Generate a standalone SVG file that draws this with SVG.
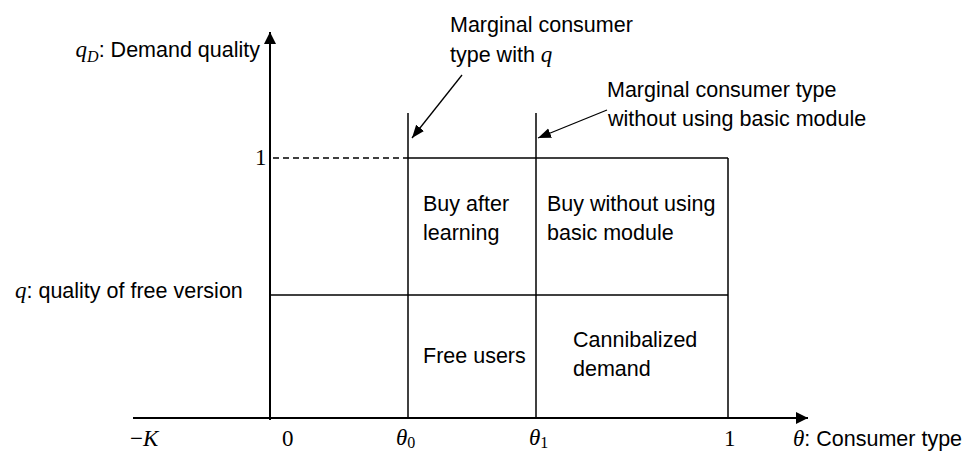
<svg xmlns="http://www.w3.org/2000/svg" width="979" height="452" viewBox="0 0 979 452">
<style>
text{font-family:"Liberation Sans",Arial,sans-serif;font-size:21.5px;fill:#000}
.m{font-family:"Liberation Serif","Times New Roman",serif;font-style:italic;font-size:23px}
.n{font-family:"Liberation Serif","Times New Roman",serif;font-size:23px}
.sub{font-family:"Liberation Serif","Times New Roman",serif;font-size:16px}
.axis{stroke:#000;stroke-width:2;fill:none}
.grid{stroke:#000;stroke-width:1.5;fill:none}
.dash{stroke:#000;stroke-width:1.5;stroke-dasharray:6 4;fill:none}
.ptr{stroke:#000;stroke-width:1.3;fill:none}
</style>
<defs>
<marker id="ah" markerUnits="userSpaceOnUse" markerWidth="14" markerHeight="12" refX="12" refY="6" orient="auto">
<path d="M0,0 L12,6 L0,12 Z" fill="#000"/>
</marker>
<marker id="ap" markerUnits="userSpaceOnUse" markerWidth="14" markerHeight="12" refX="13" refY="5" orient="auto">
<path d="M0,0 L13,5 L0,10 Z" fill="#000"/>
</marker>
</defs>
<g id="connectors">
<line id="y-axis" class="axis" x1="270" y1="420" x2="270" y2="32" marker-end="url(#ah)"/>
<line id="x-axis" class="axis" x1="133" y1="418" x2="808" y2="418" marker-end="url(#ah)"/>
<line class="grid" x1="408" y1="113" x2="408" y2="418"/>
<line class="grid" x1="536" y1="113" x2="536" y2="418"/>
<line class="grid" x1="728" y1="158" x2="728" y2="418"/>
<line class="grid" x1="408" y1="158" x2="728" y2="158"/>
<line class="dash" x1="273" y1="158" x2="408" y2="158"/>
<line class="grid" x1="270" y1="295" x2="728" y2="295"/>
<line class="ptr" x1="462" y1="75" x2="412" y2="138" marker-end="url(#ap)"/>
<line class="ptr" x1="607" y1="110" x2="538" y2="138" marker-end="url(#ap)"/>
</g>
<g id="y-label"><text x="260" y="57" text-anchor="end"><tspan class="m">q</tspan><tspan class="sub" font-style="italic" dy="5">D</tspan><tspan dy="-5">: Demand quality</tspan></text></g>
<g id="y-one"><text class="n" x="255" y="165">1</text></g>
<g id="q-label"><text x="15" y="298"><tspan class="m">q</tspan>: quality of free version</text></g>
<g id="marginal-q"><text x="450" y="32">Marginal consumer</text><text x="450" y="62">type with <tspan class="m">q</tspan></text></g>
<g id="marginal-basic"><text x="607" y="97">Marginal consumer type</text><text x="608" y="126">without using basic module</text></g>
<g id="buy-after"><text x="423" y="211">Buy after</text><text x="423" y="240">learning</text></g>
<g id="buy-without"><text x="547" y="211">Buy without using</text><text x="547" y="240">basic module</text></g>
<g id="free-users"><text x="423" y="363">Free users</text></g>
<g id="cannibalized"><text x="573" y="347">Cannibalized</text><text x="573" y="376">demand</text></g>
<g id="x-ticks">
<text class="n" x="130" y="446">−<tspan font-style="italic">K</tspan></text>
<text class="n" x="282" y="446">0</text>
<text x="396" y="445"><tspan class="m">θ</tspan><tspan class="sub" dy="3">0</tspan></text>
<text x="529" y="445"><tspan class="m">θ</tspan><tspan class="sub" dy="3">1</tspan></text>
<text class="n" x="724" y="446">1</text>
</g>
<g id="x-label"><text x="793" y="446"><tspan class="m">θ</tspan>: Consumer type</text></g>
</svg>
